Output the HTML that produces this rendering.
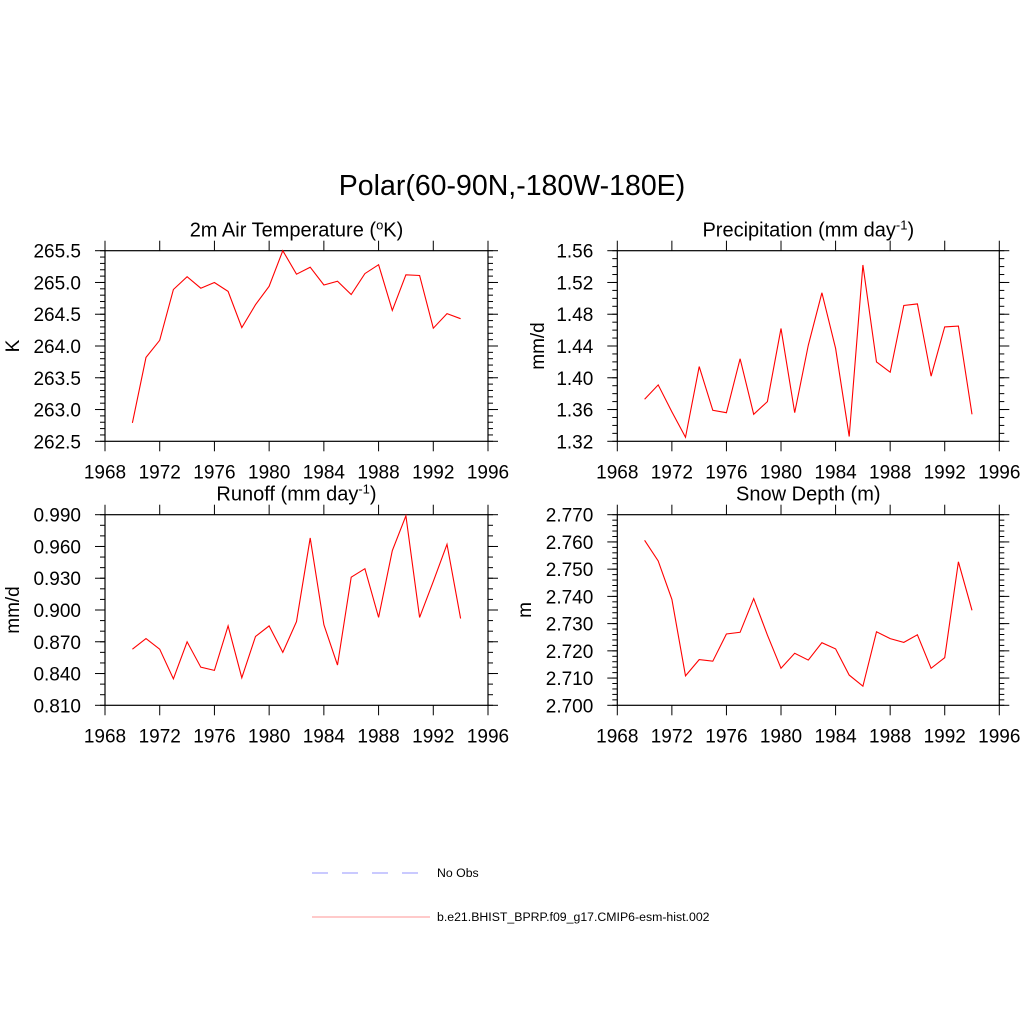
<!DOCTYPE html>
<html><head><meta charset="utf-8"><style>
html,body{margin:0;padding:0;background:#fff;}
svg{display:block;font-family:"Liberation Sans",Arial,sans-serif;}
</style></head><body>
<svg id="chart" width="1024" height="1024" viewBox="0 0 1024 1024">
<rect width="1024" height="1024" fill="#fff"/>
<text x="512" y="195" font-size="28.5" text-anchor="middle">Polar(60-90N,-180W-180E)</text>
<g id="legend">
<line x1="312" y1="873" x2="419" y2="873" stroke="#aaaaff" stroke-width="1.2" stroke-dasharray="16,14"/>
<text x="437" y="877" font-size="12.3">No Obs</text>
<line x1="312" y1="917" x2="430" y2="917" stroke="#ffaaaa" stroke-width="1.2"/>
<text x="437" y="921" font-size="12.3">b.e21.BHIST_BPRP.f09_g17.CMIP6-esm-hist.002</text>
</g>
</svg>
<script>
const years = [1970,1971,1972,1973,1974,1975,1976,1977,1978,1979,1980,1981,1982,1983,1984,1985,1986,1987,1988,1989,1990,1991,1992,1993,1994];
const xTicks = [1968,1972,1976,1980,1984,1988,1992,1996];
const tempVals = [262.79,263.82,264.09,264.89,265.09,264.91,265.00,264.86,264.29,264.65,264.94,265.50,265.13,265.24,264.96,265.02,264.81,265.14,265.28,264.56,265.12,265.11,264.28,264.51,264.43];
const precVals = [1.373,1.391,1.357,1.325,1.414,1.359,1.356,1.424,1.354,1.370,1.462,1.356,1.441,1.507,1.437,1.326,1.542,1.420,1.407,1.491,1.493,1.402,1.464,1.465,1.354];
const runoffVals = [0.863,0.873,0.863,0.835,0.870,0.846,0.843,0.885,0.836,0.875,0.885,0.860,0.889,0.968,0.886,0.848,0.931,0.939,0.893,0.956,0.989,0.893,0.927,0.962,0.892];
const snowVals = [2.7606,2.753,2.7389,2.7108,2.7168,2.7162,2.7262,2.7268,2.7392,2.7258,2.7136,2.7191,2.7166,2.7230,2.7207,2.7111,2.7070,2.7270,2.7245,2.7231,2.7259,2.7136,2.7175,2.7527,2.7349];
const tempTicks = ["262.5","263.0","263.5","264.0","264.5","265.0","265.5"];
const precTicks = ["1.32","1.36","1.40","1.44","1.48","1.52","1.56"];
const runoffTicks = ["0.810","0.840","0.870","0.900","0.930","0.960","0.990"];
const snowTicks = ["2.700","2.710","2.720","2.730","2.740","2.750","2.760","2.770"];

const NS = "http://www.w3.org/2000/svg";
const svg = document.getElementById('chart');
function mk(tag, attrs, parent){const e=document.createElementNS(NS,tag);for(const k in attrs)e.setAttribute(k,attrs[k]);(parent||svg).appendChild(e);return e;}

function panel(o){
  const g = mk('g',{});
  
  
  const L=o.x0,R=o.x1,T=o.y0,B=o.y1;
  const ymin=parseFloat(o.ticks[0]), ymax=parseFloat(o.ticks[o.ticks.length-1]);
  const xs = v => L + (v-1968)/(1996-1968)*(R-L);
  const ys = v => B - (v-ymin)/(ymax-ymin)*(B-T);
  const st = {stroke:'#000','stroke-width':1};
  const nMin = Math.round((ymax-ymin)/o.minor);
  for(let i=0;i<=nMin;i++){const y=ys(ymin+i*o.minor);
    mk('line',Object.assign({x1:L-5,x2:L,y1:y,y2:y},st),g);
    mk('line',Object.assign({x1:R,x2:R+5,y1:y,y2:y},st),g);}
  o.ticks.forEach(t=>{const y=ys(parseFloat(t));
    mk('line',Object.assign({x1:L-10,x2:L,y1:y,y2:y},st),g);
    mk('line',Object.assign({x1:R,x2:R+10,y1:y,y2:y},st),g);
    const tx=mk('text',{x:L-24,y:y+7,'font-size':19,'text-anchor':'end'},g);tx.textContent=t;
    
    
  });
  xTicks.forEach(t=>{const x=xs(t);
    mk('line',Object.assign({x1:x,x2:x,y1:B,y2:B+10},st),g);
    mk('line',Object.assign({x1:x,x2:x,y1:T-10,y2:T},st),g);
    const tx=mk('text',{x:x,y:B+37,'font-size':19,'text-anchor':'middle'},g);tx.textContent=t;
    
    
  });
  const fr=mk('rect',{x:L,y:T,width:R-L,height:B-T,fill:'none',stroke:'#000','stroke-width':1.2},g);
  
  
  const pts = years.map((yr,i)=>xs(yr).toFixed(1)+','+ys(o.vals[i]).toFixed(1)).join(' ');
  const pl=mk('polyline',{points:pts,fill:'none',stroke:'#ff0000','stroke-width':1.1},g);
  
  
  const ti=mk('text',{x:(L+R)/2,y:T-14,'font-size':20,'text-anchor':'middle'},g);
  ti.innerHTML=o.title;
  
  
  const yl=mk('text',{x:0,y:0,'font-size':19,'text-anchor':'middle',transform:`translate(${o.ylx},${(T+B)/2}) rotate(-90)`},g);
  yl.textContent=o.ylab;
  
  
}
panel({name:'temperature-panel',x0:105,x1:488,y0:250.7,y1:441.3,vals:tempVals,ticks:tempTicks,minor:0.1,
  title:'2m Air Temperature (<tspan dy="-7" font-size="13">o</tspan><tspan dy="7">K)</tspan>',ylab:'K',ylx:19});
panel({name:'precipitation-panel',x0:617.3,x1:999.3,y0:250.7,y1:441.3,vals:precVals,ticks:precTicks,minor:0.01,
  title:'Precipitation (mm day<tspan dy="-7" font-size="13">-1</tspan><tspan dy="7">)</tspan>',ylab:'mm/d',ylx:544});
panel({name:'runoff-panel',x0:105,x1:488,y0:514.7,y1:705.3,vals:runoffVals,ticks:runoffTicks,minor:0.01,
  title:'Runoff (mm day<tspan dy="-7" font-size="13">-1</tspan><tspan dy="7">)</tspan>',ylab:'mm/d',ylx:19});
panel({name:'snow-depth-panel',x0:617.3,x1:999.3,y0:514.7,y1:705.3,vals:snowVals,ticks:snowTicks,minor:0.002,
  title:'Snow Depth (m)',ylab:'m',ylx:531});
</script>
</body></html>
